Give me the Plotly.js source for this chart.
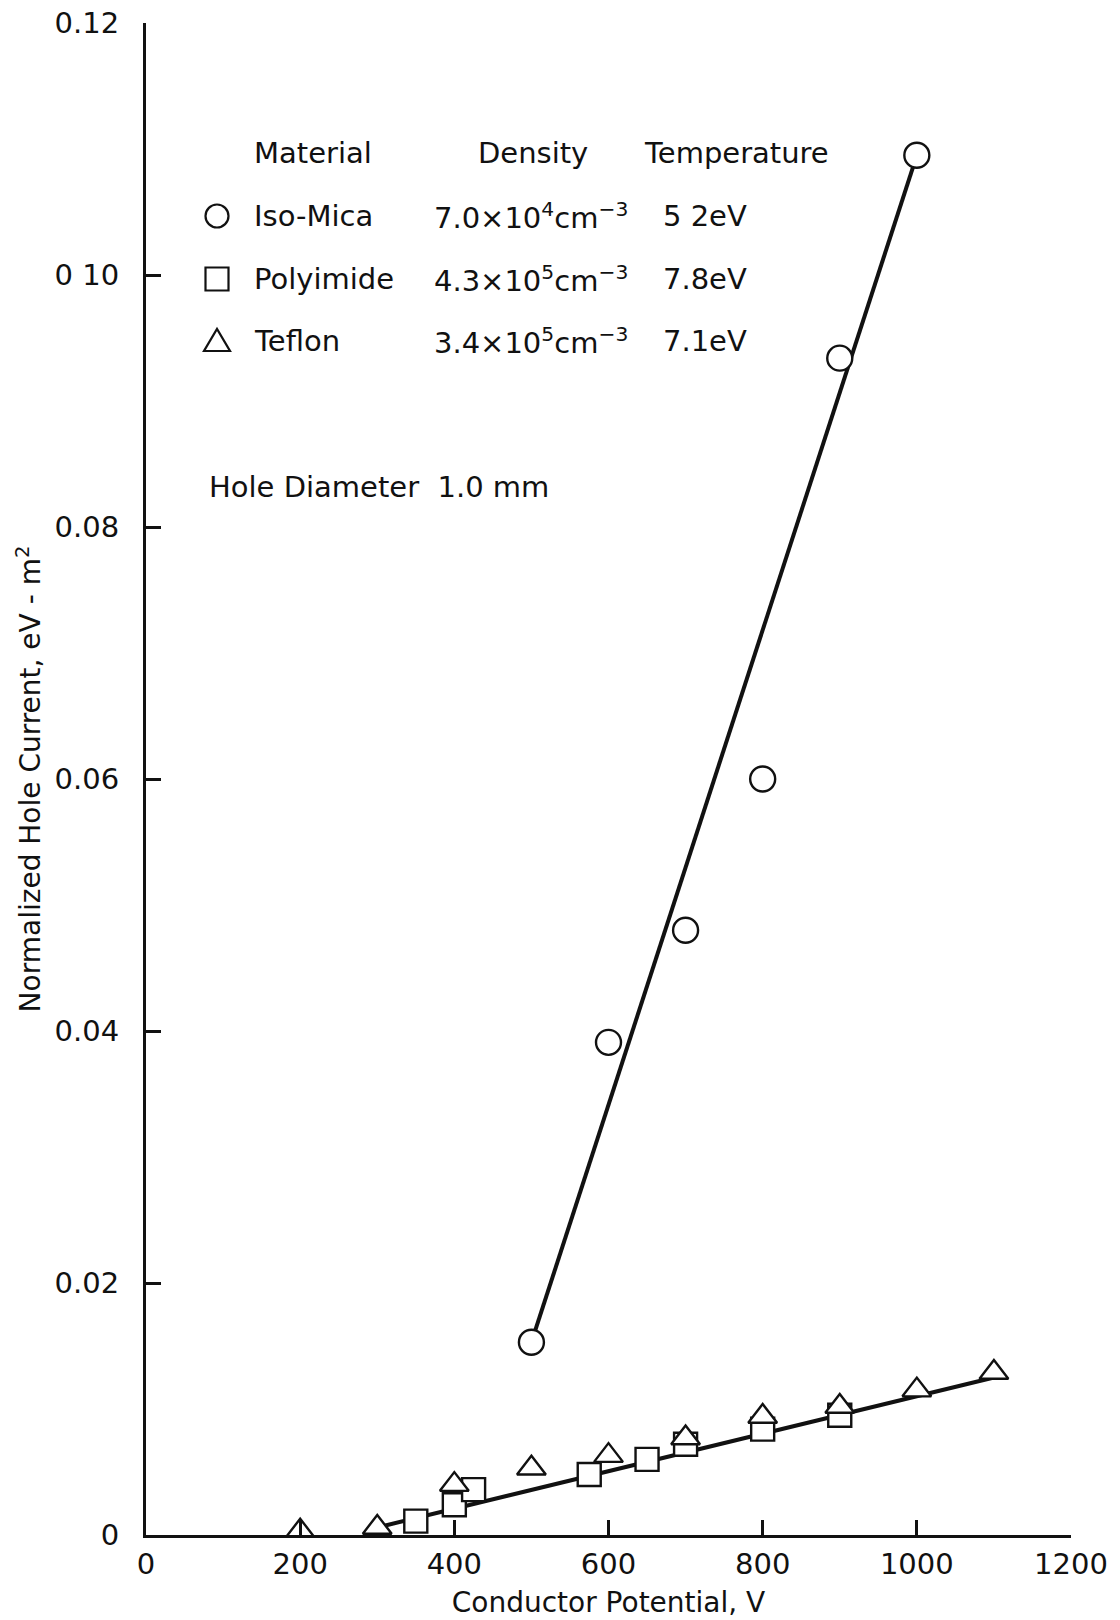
<!DOCTYPE html>
<html>
<head>
<meta charset="utf-8">
<script src="https://cdn.plot.ly/plotly-3.0.1.min.js"></script>
<style>html,body{margin:0;padding:0;background:#fff;}</style>
</head>
<body>
<div id="chart" style="width:1120px;height:1620px;"></div>
<script>
// ---- data ----
const micaX = [500, 600, 700, 800, 900, 1000];
const micaY = [0.0153, 0.0391, 0.0480, 0.0600, 0.0934, 0.1095];
const polyX = [350, 400, 425, 575, 650, 700, 800, 900];
const polyY = [0.0011, 0.0024, 0.0036, 0.0048, 0.0060, 0.0072, 0.0084, 0.0095];
const teflonX = [200, 300, 400, 500, 600, 700, 800, 900, 1000, 1100];
const teflonY = [0.0003, 0.0006, 0.0040, 0.0053, 0.0063, 0.0077, 0.0094, 0.0102, 0.0115, 0.0129];
const micaFitX = [500, 1000];
const micaFitY = [0.0153, 0.1095];
const lowFitX = [300, 1100];
const lowFitY = [0.0006, 0.0125];
const xTickVals = [0, 200, 400, 600, 800, 1000, 1200];
const xTickText = ['0', '200', '400', '600', '800', '1000', '1200'];
const yTickVals = [0, 0.02, 0.04, 0.06, 0.08, 0.10, 0.12];
const yTickText = ['0', '0.02', '0.04', '0.06', '0.08', '0 10', '0.12'];
const materials = ['Iso-Mica', 'Polyimide', 'Teflon'];
const densities = ['7.0×10<sup>4</sup>cm<sup>−3</sup>', '4.3×10<sup>5</sup>cm<sup>−3</sup>', '3.4×10<sup>5</sup>cm<sup>−3</sup>'];
const temperatures = ['5 2eV', '7.8eV', '7.1eV'];
const headers = ['Material', 'Density', 'Temperature'];
const holeNote = 'Hole Diameter  1.0 mm';

// ---- layout geometry ----
const W = 1120, H = 1620;
const M = {l: 146, r: 49, t: 23, b: 85};
const PW = W - M.l - M.r, PH = H - M.t - M.b;
const px = v => (v - M.l) / PW;
const py = v => (H - M.b - v) / PH;

const FONT = 'DejaVu Sans, Liberation Sans, sans-serif';
const BLK = '#111';

const lineStyle = {color: BLK, width: 4};
const traces = [
  {x: micaFitX, y: micaFitY, mode: 'lines', line: lineStyle, showlegend: false, hoverinfo: 'skip'},
  {x: lowFitX, y: lowFitY, mode: 'lines', line: lineStyle, showlegend: false, hoverinfo: 'skip'},
  {x: polyX, y: polyY, mode: 'markers', name: materials[1],
   marker: {symbol: 'square', size: 23, color: '#fff', line: {color: BLK, width: 2.4}}},
  {x: teflonX, y: teflonY, mode: 'markers', name: materials[2],
   marker: {symbol: 'triangle-up', size: 25, color: '#fff', line: {color: BLK, width: 2.4}}},
  {x: micaX, y: micaY, mode: 'markers', name: materials[0],
   marker: {symbol: 'circle', size: 25, color: '#fff', line: {color: BLK, width: 2.4}}}
];

const ann = [];
const colX = [252, 476, 642];
headers.forEach((h, i) => ann.push({text: h, x: px(colX[i]), y: py(153)}));
const rowY = [216, 279, 341];
for (let i = 0; i < 3; i++) {
  ann.push({text: materials[i], x: px(252), y: py(rowY[i])});
  ann.push({text: densities[i], x: px(432), y: py(rowY[i])});
  ann.push({text: temperatures[i], x: px(661), y: py(rowY[i])});
}
ann.push({text: holeNote, x: px(207), y: py(487)});
ann.forEach(a => Object.assign(a, {xref: 'paper', yref: 'paper', xanchor: 'left', yanchor: 'middle',
  showarrow: false, font: {family: FONT, size: 29, color: BLK}}));

const symX = px(217);
const shp = {xref: 'paper', yref: 'paper', xsizemode: 'pixel', ysizemode: 'pixel', xanchor: symX,
  line: {color: BLK, width: 2.2}, fillcolor: 'rgba(0,0,0,0)'};
const shapes = [
  Object.assign({}, shp, {type: 'circle', yanchor: py(rowY[0]), x0: -11.5, x1: 11.5, y0: -11.5, y1: 11.5}),
  Object.assign({}, shp, {type: 'rect', yanchor: py(rowY[1]), x0: -11.5, x1: 11.5, y0: -11.5, y1: 11.5}),
  Object.assign({}, shp, {type: 'path', yanchor: py(rowY[2]), path: 'M-13,-10L13,-10L0,12Z'})
];

const axisCommon = {
  showline: true, linecolor: BLK, linewidth: 3, mirror: false,
  ticks: 'inside', ticklen: 15, tickwidth: 3, tickcolor: BLK,
  showgrid: false, zeroline: false, tickmode: 'array',
  tickfont: {family: FONT, size: 29, color: BLK}, fixedrange: true
};

const layout = {
  width: W, height: H, margin: M, paper_bgcolor: '#fff', plot_bgcolor: '#fff',
  showlegend: false,
  xaxis: Object.assign({}, axisCommon, {range: [0, 1200], tickvals: xTickVals, ticktext: xTickText,
    ticklabelstandoff: 1,
    title: {text: 'Conductor Potential, V', font: {family: FONT, size: 28, color: BLK}, standoff: 13}}),
  yaxis: Object.assign({}, axisCommon, {range: [0, 0.12], tickvals: yTickVals, ticktext: yTickText,
    ticklabelstandoff: 18,
    title: {text: 'Normalized Hole Current, eV - m<sup>2</sup>', font: {family: FONT, size: 28, color: BLK}, standoff: 6}}),
  annotations: ann,
  shapes: shapes
};

Plotly.newPlot('chart', traces, layout, {displayModeBar: false});
</script>
</body>
</html>
